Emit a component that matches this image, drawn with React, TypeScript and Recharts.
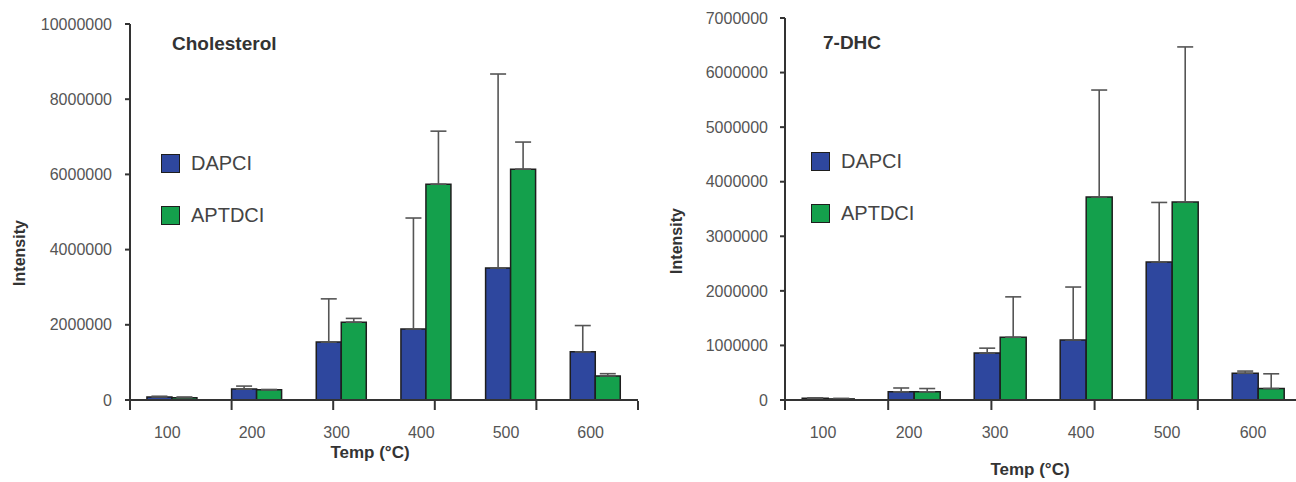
import React from 'react';
import { BarChart, Bar, XAxis, YAxis, ErrorBar, Legend } from 'recharts';

const temps = ['100', '200', '300', '400', '500', '600'];
const boundaryTicks = [0, 1, 2, 3, 4, 5, 6];
const seriesOrder = ['DAPCI', 'APTDCI'];

const cholDapci = [80000, 290000, 1540000, 1890000, 3510000, 1280000];
const cholDapciSd = [20000, 80000, 1150000, 2950000, 5160000, 700000];
const cholAptdci = [60000, 270000, 2070000, 5740000, 6140000, 640000];
const cholAptdciSd = [20000, 10000, 100000, 1410000, 720000, 60000];

const dhcDapci = [30000, 150000, 860000, 1100000, 2530000, 490000];
const dhcDapciSd = [10000, 70000, 90000, 970000, 1090000, 40000];
const dhcAptdci = [20000, 150000, 1150000, 3720000, 3630000, 210000];
const dhcAptdciSd = [10000, 60000, 740000, 1960000, 2840000, 270000];

const cholTicks = [0, 2000000, 4000000, 6000000, 8000000, 10000000];
const dhcTicks = [0, 1000000, 2000000, 3000000, 4000000, 5000000, 6000000, 7000000];

const BLUE = '#2E479E';
const GREEN = '#14A04C';
const EDGE = '#1e1e1e';
const AXIS = '#333333';
const FONT = '"Liberation Sans", Arial, Helvetica, sans-serif';

const buildRows = (a: number[], aSd: number[], b: number[], bSd: number[]) =>
  temps.map((t, i) => ({
    temp: t,
    dapci: a[i],
    dapciErr: [0, aSd[i]],
    aptdci: b[i],
    aptdciErr: [0, bSd[i]],
  }));

const cholData = buildRows(cholDapci, cholDapciSd, cholAptdci, cholAptdciSd);
const dhcData = buildRows(dhcDapci, dhcDapciSd, dhcAptdci, dhcAptdciSd);

const XTick = (props: any) => {
  const { x, y, payload } = props;
  return (
    <text x={x - 5} y={y + 38} textAnchor="middle" fontSize={16} fill="#555" fontFamily={FONT}>
      {payload.value}
    </text>
  );
};

const LegendContent = (props: any) => {
  const items = [...(props.payload || [])].sort(
    (a: any, b: any) => seriesOrder.indexOf(a.value) - seriesOrder.indexOf(b.value)
  );
  return (
    <div style={{ fontFamily: FONT }}>
      {items.map((item: any) => (
        <div key={item.value} style={{ display: 'flex', alignItems: 'center', height: 52 }}>
          <span
            style={{
              display: 'inline-block',
              width: 19,
              height: 19,
              background: item.color,
              border: `1.5px solid ${EDGE}`,
              boxSizing: 'border-box',
            }}
          />
          <span style={{ marginLeft: 11, fontSize: 20, color: '#444', lineHeight: '20px' }}>{item.value}</span>
        </div>
      ))}
    </div>
  );
};

const yFmt = (v: number) => String(v);
const blank = () => '';

const Panel = (p: {
  data: any[];
  ticks: number[];
  max: number;
  width: number;
  top: number;
  yWidth: number;
  right: number;
  tickMargin: number;
  legendTop: number;
}) => (
  <BarChart
    width={p.width}
    height={482}
    data={p.data}
    margin={{ top: p.top, right: p.right, bottom: 0, left: 0 }}
    barCategoryGap="20%"
    barGap={0}
  >
    <XAxis
      dataKey="temp"
      height={1}
      axisLine={{ stroke: AXIS, strokeWidth: 2 }}
      tickLine={false}
      tickSize={0}
      tickMargin={0}
      tick={<XTick />}
      interval={0}
    />
    <XAxis
      xAxisId="bounds"
      type="number"
      domain={[0, temps.length]}
      ticks={boundaryTicks}
      allowDataOverflow
      height={81}
      axisLine={false}
      tickLine={{ stroke: AXIS, strokeWidth: 2 }}
      tickSize={9}
      tickFormatter={blank}
    />
    <YAxis
      width={p.yWidth}
      domain={[0, p.max]}
      ticks={p.ticks}
      tickFormatter={yFmt}
      axisLine={{ stroke: AXIS, strokeWidth: 2 }}
      tickLine={{ stroke: AXIS, strokeWidth: 2 }}
      tickSize={5}
      tickMargin={p.tickMargin}
      tick={{ fontSize: 16, fill: '#555', fontFamily: FONT }}
      allowDataOverflow
    />
    <Legend
      layout="vertical"
      align="center"
      verticalAlign="middle"
      content={<LegendContent />}
      wrapperStyle={{ left: 161, top: p.legendTop, width: 160 }}
    />
    <Bar dataKey="dapci" name="DAPCI" fill={BLUE} stroke={EDGE} strokeWidth={1.5} isAnimationActive={false}>
      <ErrorBar dataKey="dapciErr" width={8} stroke="#555" strokeWidth={1.6} direction="y" />
    </Bar>
    <Bar dataKey="aptdci" name="APTDCI" fill={GREEN} stroke={EDGE} strokeWidth={1.5} isAnimationActive={false}>
      <ErrorBar dataKey="aptdciErr" width={8} stroke="#555" strokeWidth={1.6} direction="y" />
    </Bar>
  </BarChart>
);

const abs = (s: React.CSSProperties): React.CSSProperties => ({
  position: 'absolute',
  whiteSpace: 'nowrap',
  fontFamily: FONT,
  ...s,
});

export default function App() {
  return (
    <div
      style={{
        position: 'fixed',
        left: 0,
        top: 0,
        width: 1296,
        height: 482,
        overflow: 'hidden',
        background: '#fff',
      }}
    >
      <div style={{ position: 'absolute', left: 0, top: 0, width: 650, height: 482 }}>
        <Panel
          data={cholData}
          ticks={cholTicks}
          max={10000000}
          width={650}
          top={24}
          yWidth={130}
          right={12}
          tickMargin={13}
          legendTop={137}
        />
      </div>
      <div style={{ position: 'absolute', left: 650, top: 0, width: 660, height: 482 }}>
        <Panel
          data={dhcData}
          ticks={dhcTicks}
          max={7000000}
          width={660}
          top={18}
          yWidth={135}
          right={9}
          tickMargin={12}
          legendTop={135}
        />
      </div>

      <div style={abs({ left: 172, top: 33, fontSize: 19, fontWeight: 'bold', color: '#333' })}>Cholesterol</div>
      <div style={abs({ left: 823, top: 32, fontSize: 19, fontWeight: 'bold', color: '#333' })}>7-DHC</div>

      <div
        style={abs({
          left: 20,
          top: 253,
          fontSize: 16,
          fontWeight: 'bold',
          color: '#333',
          transform: 'translate(-50%, -50%) rotate(-90deg)',
        })}
      >
        Intensity
      </div>
      <div
        style={abs({
          left: 677,
          top: 241,
          fontSize: 16,
          fontWeight: 'bold',
          color: '#333',
          transform: 'translate(-50%, -50%) rotate(-90deg)',
        })}
      >
        Intensity
      </div>

      <div
        style={abs({
          left: 370,
          top: 453,
          fontSize: 17,
          fontWeight: 'bold',
          color: '#333',
          transform: 'translate(-50%, -50%)',
        })}
      >
        Temp (°C)
      </div>
      <div
        style={abs({
          left: 1030,
          top: 470,
          fontSize: 17,
          fontWeight: 'bold',
          color: '#333',
          transform: 'translate(-50%, -50%)',
        })}
      >
        Temp (°C)
      </div>
    </div>
  );
}
